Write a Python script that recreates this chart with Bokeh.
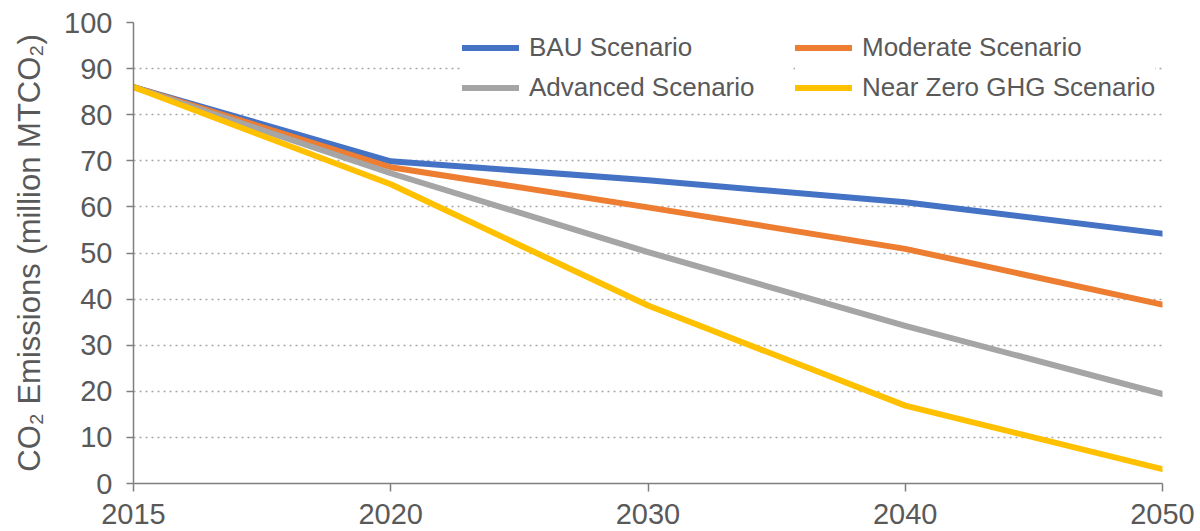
from bokeh.plotting import figure
from bokeh.models import Range1d, FixedTicker, Legend, LegendItem
from bokeh.embed import file_html
from bokeh.resources import INLINE

years = ["2015", "2020", "2030", "2040", "2050"]
bau = [86.0, 69.9, 65.8, 61.0, 54.2]
moderate = [86.0, 68.6, 59.9, 50.9, 38.8]
advanced = [86.0, 67.3, 50.2, 34.2, 19.4]
near_zero = [86.0, 64.9, 38.6, 16.9, 3.1]
series_names = ["BAU Scenario", "Moderate Scenario", "Advanced Scenario", "Near Zero GHG Scenario"]
series_colors = ["#4472C4", "#ED7D31", "#A5A5A5", "#FFC000"]
y_ticks = list(range(0, 101, 10))

FONT = "Liberation Sans"
TXT = "#595959"

xs = list(range(len(years)))

p = figure(width=1200, height=531, output_backend="svg", toolbar_location=None,
           x_range=Range1d(0, len(years) - 1), y_range=Range1d(0, 100),
           min_border_left=133, min_border_right=38, min_border_top=22, min_border_bottom=48)
p.outline_line_color = None
p.background_fill_color = "white"
p.border_fill_color = "white"

renderers = []
for vals, col in zip([bau, moderate, advanced, near_zero], series_colors):
    r = p.line(xs, vals, line_color=col, line_width=6, line_cap="round", line_join="round")
    renderers.append(r)

# grid
p.xgrid.grid_line_color = None
p.ygrid.grid_line_color = "#A6A6A6"
p.ygrid.grid_line_dash = "2 4"
p.ygrid.grid_line_width = 1.5
p.ygrid.ticker = FixedTicker(ticks=y_ticks)

# x axis
p.xaxis.ticker = FixedTicker(ticks=xs)
p.xaxis.major_label_overrides = {i: y for i, y in enumerate(years)}
p.xaxis.minor_tick_line_color = None
p.xaxis.major_tick_in = 0
p.xaxis.major_tick_out = 8
p.xaxis.major_label_standoff = 12
p.xaxis.major_label_text_font = FONT
p.xaxis.major_label_text_font_size = "29px"
p.xaxis.major_label_text_color = TXT

# y axis
p.yaxis.ticker = FixedTicker(ticks=y_ticks)
p.yaxis.minor_tick_line_color = None
p.yaxis.major_tick_in = 0
p.yaxis.major_tick_out = 7
p.yaxis.major_label_standoff = 14
p.yaxis.major_label_text_font = FONT
p.yaxis.major_label_text_font_size = "29px"
p.yaxis.major_label_text_color = TXT
p.yaxis.axis_label = "CO\u2082 Emissions (million MTCO\u2082)"
p.yaxis.axis_label_text_font = FONT
p.yaxis.axis_label_text_font_style = "normal"
p.yaxis.axis_label_text_font_size = "31px"
p.yaxis.axis_label_text_color = TXT
p.yaxis.axis_label_standoff = 14

for ax in (p.xaxis, p.yaxis):
    ax.axis_line_color = "#7F7F7F"
    ax.axis_line_width = 1.5
    ax.major_tick_line_color = "#7F7F7F"
    ax.major_tick_line_width = 1.5


def make_legend(idx, loc, label_width=20):
    lg = Legend(items=[LegendItem(label=series_names[i], renderers=[renderers[i]]) for i in idx],
                location=loc, orientation="vertical")
    lg.label_text_font = FONT
    lg.label_text_font_size = "26px"
    lg.label_text_color = TXT
    lg.glyph_width = 57
    lg.glyph_height = 31
    lg.label_height = 31
    lg.label_width = label_width
    lg.label_standoff = 10
    lg.spacing = 9
    lg.padding = 7
    lg.margin = 0
    lg.border_line_color = None
    lg.background_fill_alpha = 1.0
    return lg


p.add_layout(make_legend([0, 2], (329, 380), label_width=262))
p.add_layout(make_legend([1, 3], (662, 380)))

open("out.html", "w").write(file_html(p, INLINE))
